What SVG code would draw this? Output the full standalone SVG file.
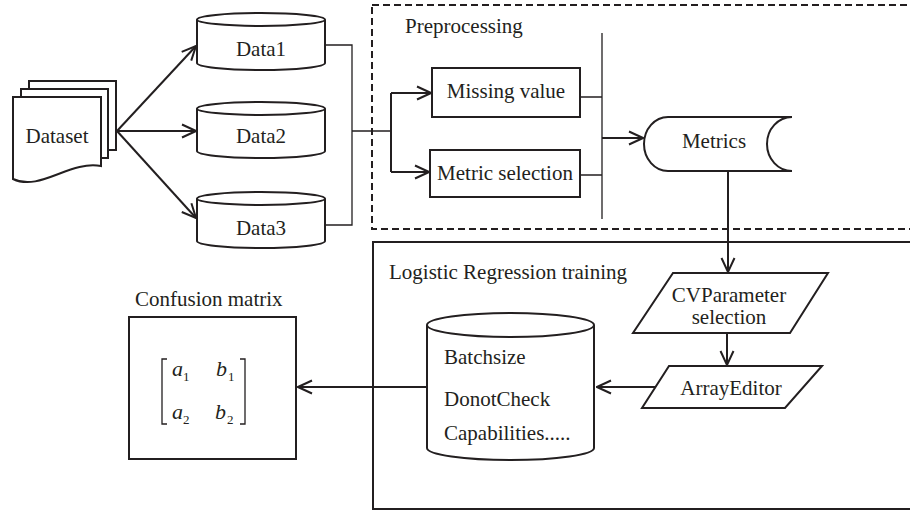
<svg xmlns="http://www.w3.org/2000/svg" width="910" height="511" viewBox="0 0 910 511" font-family="'Liberation Serif', 'Times New Roman', Times, serif">
<defs>
<marker id="arr" viewBox="0 0 16 16" refX="15" refY="8" markerWidth="16" markerHeight="16" markerUnits="userSpaceOnUse" orient="auto">
<path d="M1,1.5 L15,8 L1,14.5" fill="none" stroke="#231f20" stroke-width="2"/>
</marker>
</defs>
<style>
text{font-family:'Liberation Serif','Times New Roman',Times,serif;font-size:21px;fill:#231f20}
.c{text-anchor:middle}
.sh{fill:#fff;stroke:#231f20;stroke-width:2}
.ln{fill:none;stroke:#231f20;stroke-width:2}
.th{fill:none;stroke:#231f20;stroke-width:1.3}
.ar{fill:none;stroke:#231f20;stroke-width:2;marker-end:url(#arr)}
.it{font-style:italic;font-size:22px}
.sub{font-size:13px}
</style>
<rect width="910" height="511" fill="#fff"/>
<g id="preprocessing-box">
<rect x="372" y="5" width="545" height="224" fill="none" stroke="#231f20" stroke-width="2" stroke-dasharray="7 4"/>
<text x="405" y="33">Preprocessing</text>
</g>
<g id="training-box">
<rect x="373" y="242" width="545" height="267" fill="none" stroke="#231f20" stroke-width="2"/>
<text x="389" y="279">Logistic Regression training</text>
</g>
<g id="connectors">
<path class="ar" d="M117,131 L196,46"/>
<path class="ar" d="M117,131 L196,131"/>
<path class="ar" d="M117,131 L196,218"/>
<path class="th" d="M325,45 H352 V225 H325 M352,131 H391 M580,97 H602 M580,175 H602 M602,33 V219"/>
<path class="ln" d="M391,93 V172"/>
<path class="ar" d="M391,93 H431"/>
<path class="ar" d="M391,172 H429"/>
<path class="ar" d="M602,138 H643"/>
<path class="ar" d="M728,171 V272"/>
<path class="ar" d="M727,333 V365"/>
<path class="ar" d="M662,387 H597"/>
<path class="ar" d="M427,387 H298"/>
</g>
<g id="dataset">
<rect class="sh" x="29" y="81" width="87" height="69"/>
<rect class="sh" x="21" y="89" width="87" height="69"/>
<path class="sh" d="M13,97 H101 V166 C70,160 40,192 13,179 Z"/>
<text class="c" x="57" y="143">Dataset</text>
</g>
<g id="data1">
<path class="sh" d="M197,19.5 V63 A64,7 0 0 0 325,63 V19.5"/>
<ellipse class="sh" cx="261" cy="19.5" rx="64" ry="6.5"/>
<text class="c" x="261" y="56">Data1</text>
</g>
<g id="data2">
<path class="sh" d="M197,108.5 V151 A64,7 0 0 0 325,151 V108.5"/>
<ellipse class="sh" cx="261" cy="108.5" rx="64" ry="6.5"/>
<text class="c" x="261" y="143">Data2</text>
</g>
<g id="data3">
<path class="sh" d="M197,198.5 V241 A64,7 0 0 0 325,241 V198.5"/>
<ellipse class="sh" cx="261" cy="198.5" rx="64" ry="6.5"/>
<text class="c" x="261" y="235">Data3</text>
</g>
<g id="missing-value">
<rect class="sh" x="432" y="68" width="148" height="49"/>
<text class="c" x="506" y="98">Missing value</text>
</g>
<g id="metric-selection">
<rect class="sh" x="430" y="150" width="150" height="47"/>
<text class="c" x="505" y="180">Metric selection</text>
</g>
<g id="metrics">
<path class="sh" d="M668,117 H792 A25,27 0 0 0 792,171 H668 A24,27 0 0 1 668,117 Z"/>
<text class="c" x="714" y="148">Metrics</text>
</g>
<g id="cvparameter">
<polygon class="sh" points="673,273 828,273 790,333 633,333"/>
<text class="c" x="729" y="302">CVParameter</text>
<text class="c" x="729" y="324">selection</text>
</g>
<g id="arrayeditor">
<polygon class="sh" points="669,366 822,366 785,408 642,408"/>
<text class="c" x="731" y="395">ArrayEditor</text>
</g>
<g id="parameters">
<path class="sh" d="M427,325 V448 A83.5,12 0 0 0 594,448 V325"/>
<ellipse class="sh" cx="510.5" cy="325" rx="83.5" ry="12"/>
<text x="444" y="364">Batchsize</text>
<text x="444" y="406">DonotCheck</text>
<text x="444" y="440">Capabilities.....</text>
</g>
<g id="confusion-matrix">
<text x="135" y="306">Confusion matrix</text>
<rect class="sh" x="129" y="317" width="167" height="142"/>
<path class="th" d="M167,359 H162 V424 H167 M240,359 H245 V424 H240"/>
<text class="it" x="172" y="376">a</text>
<text class="sub" x="183" y="381">1</text>
<text class="it" x="216" y="376">b</text>
<text class="sub" x="228" y="381">1</text>
<text class="it" x="172" y="419">a</text>
<text class="sub" x="183" y="424">2</text>
<text class="it" x="215" y="419">b</text>
<text class="sub" x="227" y="424">2</text>
</g>
</svg>
